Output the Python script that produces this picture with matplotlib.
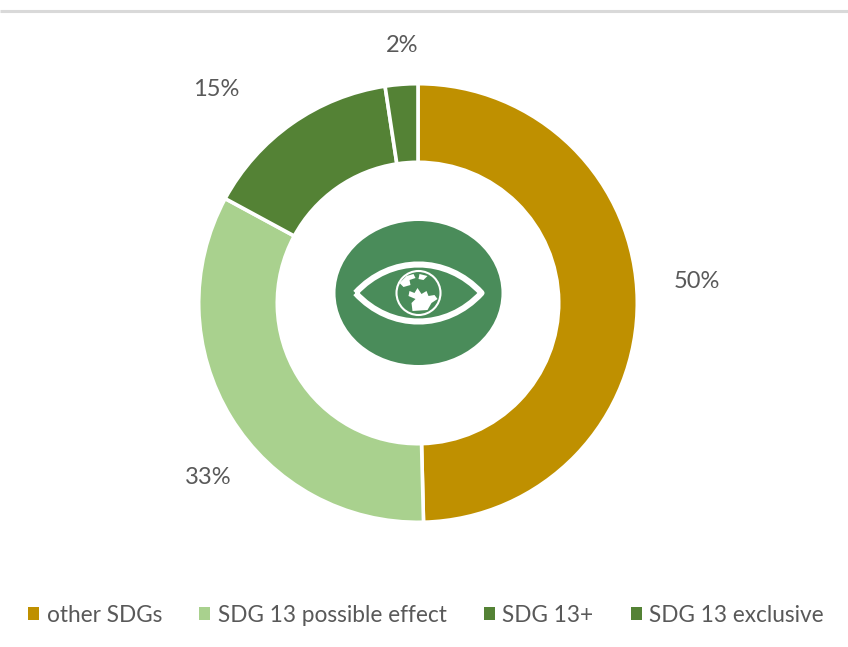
import matplotlib
matplotlib.use("Agg")
import matplotlib.pyplot as plt
import numpy as np
from matplotlib.patches import Circle, Ellipse, PathPatch, Polygon
from matplotlib.path import Path

W, H = 848, 647

categories = ["other SDGs", "SDG 13 possible effect", "SDG 13+", "SDG 13 exclusive"]
shares = [49.6, 33.3, 14.7, 2.4]
share_labels = ["50%", "33%", "15%", "2%"]
colors = ["#BF9000", "#A9D18E", "#548235", "#548235"]

TEXT = "#595959"
ICON = "#4A8C5A"

plt.rcParams["font.family"] = ["Lato", "DejaVu Sans"]

fig = plt.figure(figsize=(W / 100, H / 100), dpi=100)
ax = fig.add_axes([0, 0, 1, 1])
ax.set_xlim(0, W)
ax.set_ylim(0, H)
ax.axis("off")


def py(y):
    # picture coords run top down
    return H - y


# rule along the top
ax.plot([0, 848], [py(11), py(11)], color="#D9D9D9", linewidth=2.2, solid_capstyle="butt")

# donut
wedges, _ = ax.pie(
    shares,
    colors=colors,
    startangle=90,
    counterclock=False,
    center=(418, py(303)),
    radius=219.3,
    frame=True,
    wedgeprops=dict(width=78.6, edgecolor="white", linewidth=2.6),
)
ax.set_xlim(0, W)
ax.set_ylim(0, H)
ax.set_aspect("auto")
ax.axis("off")

label_pos = [(697, 282), (208, 477), (216, 89), (402, 45)]
for lab, (x, y) in zip(share_labels, label_pos):
    ax.text(x, py(y), lab, ha="center", va="center", fontsize=17, color=TEXT)

# eye icon in the hole
cx, cy = 418.5, py(293)
ax.add_patch(Ellipse((cx, cy), 166, 144, facecolor=ICON, edgecolor="none", zorder=3))
eye = Path(
    [(cx - 63, cy), (cx - 28, cy + 38), (cx + 28, cy + 38), (cx + 63, cy),
     (cx + 28, cy - 38), (cx - 28, cy - 38), (cx - 63, cy)],
    [Path.MOVETO, Path.CURVE4, Path.CURVE4, Path.CURVE4, Path.CURVE4, Path.CURVE4, Path.CURVE4],
)
ax.add_patch(PathPatch(eye, facecolor="none", edgecolor="white", linewidth=4.4, joinstyle="round", zorder=4))
ax.add_patch(Circle((cx, cy), 22, facecolor="none", edgecolor="white", linewidth=1.5, zorder=4))

# rough continents on the globe
land = [
    [(-9, 2), (-4, 0), (-1, 5), (3, -1), (8, 2), (10, -3), (16, -2), (19, -6), (13, -10), (9, -17), (-6, -18), (-7, -10), (-3, -6), (-10, -3)],
    [(-19, 10), (-12, 17), (-5, 19), (-3, 15), (-9, 13), (-8, 8), (-15, 6)],
    [(1, 19), (9, 17), (5, 13), (0, 14)],
]
for pts in land:
    ax.add_patch(Polygon([(cx + a, cy + b) for a, b in pts], facecolor="white", edgecolor="none", zorder=4))

leg = ax.legend(
    wedges,
    categories,
    loc="center",
    bbox_to_anchor=(426 / W, py(615) / H),
    bbox_transform=fig.transFigure,
    ncols=4,
    frameon=False,
    fontsize=16.3,
    labelcolor=TEXT,
    handlelength=0.48,
    handleheight=0.48,
    handletextpad=0.33,
    columnspacing=1.65,
    borderpad=0,
)
for handle in leg.legend_handles:
    handle.set_edgecolor("none")

fig.savefig("out.png", dpi=100, facecolor="white")
